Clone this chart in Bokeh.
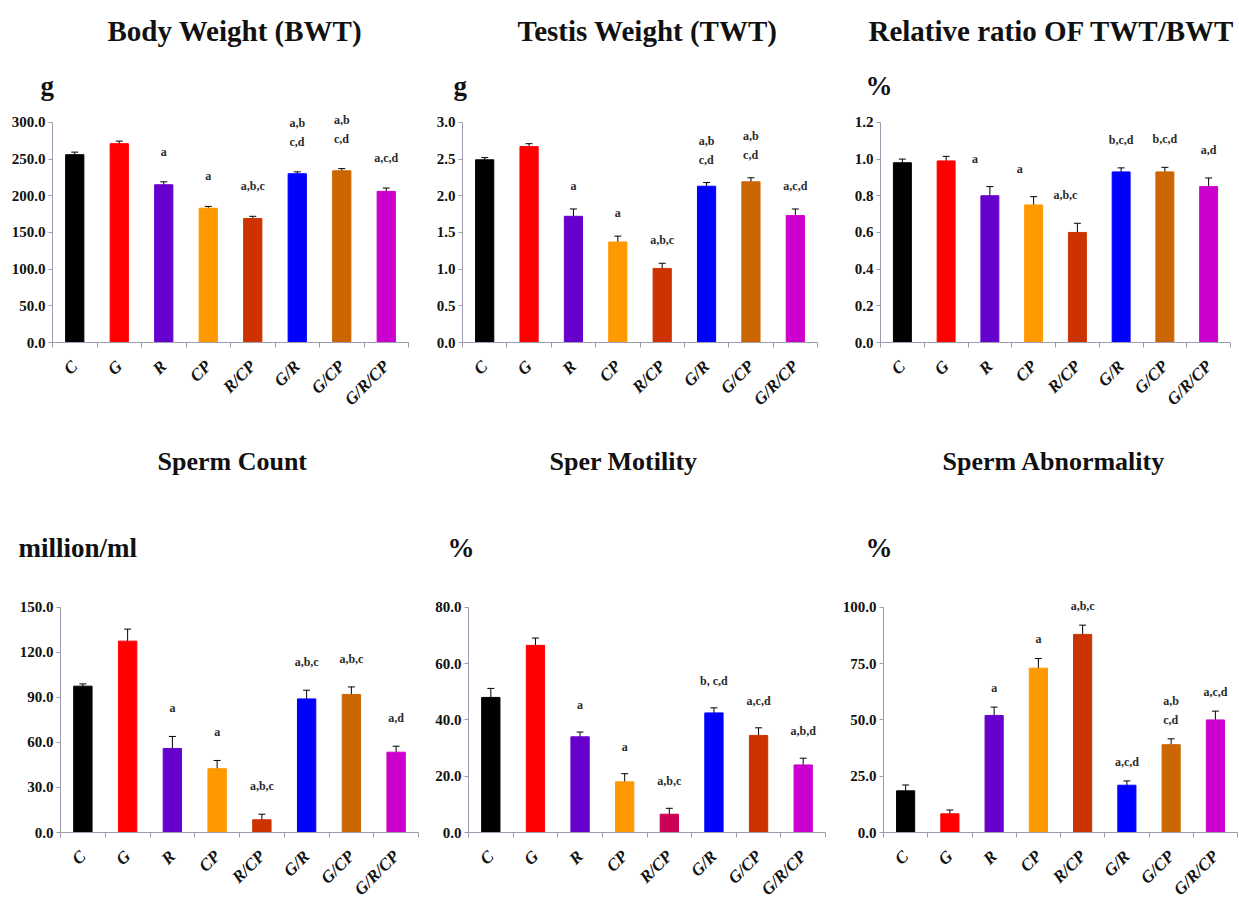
import math
from bokeh.plotting import figure
from bokeh.models import (ColumnDataSource, Range1d, FixedTicker, Whisker, TeeHead,
                          Title, PrintfTickFormatter, LabelSet)
from bokeh.layouts import column, row
from bokeh.embed import file_html
from bokeh.resources import INLINE

# ---------------- data ----------------
groups = ["C", "G", "R", "CP", "R/CP", "G/R", "G/CP", "G/R/CP"]

bwt_mean = [256, 271, 215, 183, 169, 230, 234, 206]
bwt_err = [3.5, 3.5, 4, 2.5, 3, 2.6, 3, 4.5]
bwt_sig = ["", "", "a", "a", "a,b,c", "a,b\nc,d", "a,b\nc,d", "a,c,d"]
bwt_ticks = [0, 50, 100, 150, 200, 250, 300]

twt_mean = [2.49, 2.67, 1.72, 1.37, 1.01, 2.13, 2.19, 1.73]
twt_err = [0.03, 0.04, 0.10, 0.08, 0.07, 0.05, 0.055, 0.09]
twt_sig = ["", "", "a", "a", "a,b,c", "a,b\nc,d", "a,b\nc,d", "a,c,d"]
twt_ticks = [0, 0.5, 1.0, 1.5, 2.0, 2.5, 3.0]

ratio_mean = [0.98, 0.99, 0.80, 0.75, 0.60, 0.93, 0.93, 0.85]
ratio_err = [0.02, 0.025, 0.05, 0.045, 0.05, 0.022, 0.025, 0.047]
ratio_sig = ["", "", "a", "a", "a,b,c", "b,c,d", "b,c,d", "a,d"]
ratio_ticks = [0, 0.2, 0.4, 0.6, 0.8, 1.0, 1.2]

count_mean = [97.5, 127.5, 56, 42.5, 8.5, 89, 92, 53.5]
count_err = [1.5, 8, 8, 5.5, 3.7, 5.8, 5, 4]
count_sig = ["", "", "a", "a", "a,b,c", "a,b,c", "a,b,c", "a,d"]
count_ticks = [0, 30, 60, 90, 120, 150]

motility_mean = [48, 66.5, 34, 18, 6.5, 42.5, 34.5, 24]
motility_err = [3.2, 2.6, 1.7, 2.9, 2.1, 1.8, 2.7, 2.4]
motility_sig = ["", "", "a", "a", "a,b,c", "b, c,d", "a,c,d", "a,b,d"]
motility_ticks = [0, 20, 40, 60, 80]

abn_mean = [18.5, 8.3, 52, 73, 88, 21, 39, 50]
abn_err = [2.6, 1.7, 3.7, 4.3, 4.1, 1.9, 2.6, 3.9]
abn_sig = ["", "", "a", "a", "a,b,c", "a,c,d", "a,b\nc,d", "a,c,d"]
abn_ticks = [0, 25, 50, 75, 100]

# ---------------- styles ----------------
BAR_COLORS = ["#000000", "#ff0000", "#6600cc", "#ff9900", "#cc3300", "#0000ff", "#cc6600", "#cc00cc"]
MOT_COLORS = ["#000000", "#ff0000", "#6600cc", "#ff9900", "#cc0055", "#0000ff", "#cc3300", "#cc00cc"]
AXIS_COLOR = "#9c9cae"
FONT = "Liberation Serif"
NO_SHIFT = [0] * 8
RATIO_SHIFT = [0, 0, -15, -14, -12, 0, 0, 0]   # label nudges (px) seen in the ratio panel


def make_panel(title, unit, means, errs, sigs, ticks, colors, geom, label_dx=NO_SHIFT):
    (W, H, bl, br, bt, bb, pad, unit_off, unit_so, title_off, title_so, title_size, gap) = geom
    fh = H - bt - bb
    top_tick = ticks[-1]
    ymax = top_tick * fh / (fh - pad)
    xs = [i + 1 for i in range(len(groups))]
    src = ColumnDataSource(dict(
        x=xs, top=means, color=colors, sig=sigs, dx=label_dx,
        upper=[m + e for m, e in zip(means, errs)],
        lower=[m - e for m, e in zip(means, errs)],
    ))
    p = figure(width=W, height=H, title=None, toolbar_location=None, output_backend="svg",
               x_range=Range1d(0.5, len(groups) + 0.5), y_range=Range1d(0, ymax),
               min_border_left=bl, min_border_right=br, min_border_top=bt, min_border_bottom=bb)
    p.outline_line_color = None
    p.xgrid.visible = False
    p.ygrid.visible = False
    p.background_fill_color = "white"
    p.border_fill_color = "white"

    p.vbar(x="x", top="top", bottom=0, width=0.41, fill_color="color", line_color="color",
           source=src)
    wh = Whisker(base="x", upper="upper", lower="lower", source=src,
                 line_color="black", line_width=1,
                 upper_head=TeeHead(size=7, line_color="black", line_width=1),
                 lower_head=TeeHead(size=7, line_color="black", line_width=1))
    p.add_layout(wh)
    labels = LabelSet(x="x", y="upper", text="sig", source=src, y_offset=gap, x_offset="dx",
                      text_align="center", text_baseline="bottom",
                      text_font=FONT, text_font_style="bold", text_font_size="12px",
                      text_color="#2a2a2a", text_line_height=1.35)
    p.add_layout(labels)

    # y axis
    ya = p.yaxis[0]
    ya.ticker = FixedTicker(ticks=ticks)
    ya.formatter = PrintfTickFormatter(format="%.1f")
    ya.bounds = (0, top_tick)
    ya.axis_line_color = AXIS_COLOR
    ya.major_tick_line_color = AXIS_COLOR
    ya.major_tick_in = 0
    ya.major_tick_out = 4
    ya.minor_tick_line_color = None
    ya.major_label_standoff = 3
    ya.major_label_text_font = FONT
    ya.major_label_text_font_style = "bold"
    ya.major_label_text_font_size = "15px"
    ya.major_label_text_color = "#111111"

    # x axis (category labels at centres, tick marks at boundaries)
    xa = p.xaxis[0]
    xa.ticker = FixedTicker(ticks=xs, minor_ticks=[x - 0.5 for x in xs] + [xs[-1] + 0.5])
    xa.major_label_overrides = {x: g for x, g in zip(xs, groups)}
    xa.axis_line_color = AXIS_COLOR
    xa.major_tick_line_color = None
    xa.minor_tick_line_color = AXIS_COLOR
    xa.minor_tick_in = 0
    xa.minor_tick_out = 5
    xa.major_label_orientation = math.pi / 4
    xa.major_label_standoff = 15
    xa.major_label_text_font = FONT
    xa.major_label_text_font_style = "bold italic"
    xa.major_label_text_font_size = "17px"
    xa.major_label_text_color = "#111111"

    # unit (closest to frame) then main title
    p.add_layout(Title(text=unit, align="left", offset=unit_off, standoff=unit_so,
                       text_font=FONT, text_font_style="bold", text_font_size="27px",
                       text_color="#111111"), "above")
    p.add_layout(Title(text=title, align="left", offset=title_off, standoff=title_so,
                       text_font=FONT, text_font_style="bold", text_font_size=title_size,
                       text_color="#111111"), "above")
    return p


# geometry: W, H, border l, r, t, b, top pad, unit offset, unit standoff,
#           title offset, title standoff, title size, label gap
TOP_H, BOT_H = 418, 490
p1 = make_panel("Body Weight (BWT)", "g", bwt_mean, bwt_err, bwt_sig, bwt_ticks, BAR_COLORS,
                (418, TOP_H, 52, 10, 110, 74, 12, -12, 20, 55, 23, "29px", 23))
p2 = make_panel("Testis Weight  (TWT)", "g", twt_mean, twt_err, twt_sig, twt_ticks, BAR_COLORS,
                (412, TOP_H, 44, 13, 110, 74, 12, -9, 20, 55, 23, "29px", 16))
p3 = make_panel("Relative ratio OF TWT/BWT", "%", ratio_mean, ratio_err, ratio_sig, ratio_ticks,
                BAR_COLORS, (408, TOP_H, 50, 8, 110, 74, 12, -15, 20, -12, 23, "29px", 21),
                RATIO_SHIFT)
p4 = make_panel("Sperm Count", "million/ml", count_mean, count_err, count_sig, count_ticks,
                BAR_COLORS, (425, BOT_H, 60, 7, 172, 74, 17, -42, 56, 97, 53, "26px", 21))
p5 = make_panel("Sper Motility", "%", motility_mean, motility_err, motility_sig, motility_ticks,
                MOT_COLORS, (410, BOT_H, 43, 10, 172, 74, 17, -21, 56, 81, 53, "26px", 20))
p6 = make_panel("Sperm Abnormality", "%", abn_mean, abn_err, abn_sig, abn_ticks, BAR_COLORS,
                (403, BOT_H, 48, 1, 172, 74, 17, -18, 56, 59, 53, "26px", 12))

layout = column(row(p1, p2, p3), row(p4, p5, p6))

with open("out.html", "w") as f:
    f.write(file_html(layout, INLINE))
